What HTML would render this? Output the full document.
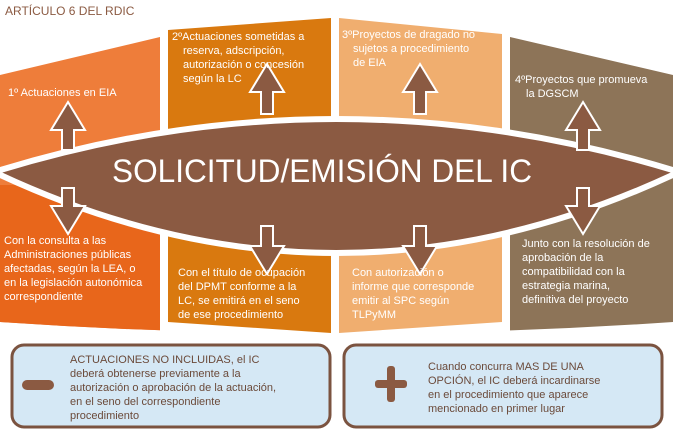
<!DOCTYPE html>
<html><head><meta charset="utf-8"><style>
html,body{margin:0;padding:0;background:#fff;}
svg{display:block;font-family:"Liberation Sans",sans-serif;}
</style></head><body>
<svg width="673" height="432" viewBox="0 0 673 432" xmlns="http://www.w3.org/2000/svg">
<defs>
<clipPath id="outer"><path d="M0,75 L160,37 L168,30 L331,18 L339,18 L502,34 L510,37 L673,75 L673,322 Q336,345 0,322 Z"/></clipPath>
</defs>
<g clip-path="url(#outer)">
<rect x="0" y="0" width="160" height="432" fill="#EE7D3A"/>
<rect x="0" y="185" width="160" height="250" fill="#E8661B"/>
<rect x="168" y="0" width="163" height="432" fill="#D9790F"/>
<rect x="339" y="0" width="163" height="432" fill="#F0AE6F"/>
<rect x="510" y="0" width="163" height="432" fill="#8D7458"/>
</g>
<path d="M168,322 L331,333 L331,345 L168,345 Z" fill="#fff"/>
<path d="M339,333 L502,322 L502,345 L339,345 Z" fill="#fff"/>
<path d="M-6,172 Q336,66 679,172 Q336,334 -6,172 Z" fill="#8B5A42" stroke="#fff" stroke-width="6"/>
<g fill="#8B5A42" stroke="#fff" stroke-width="2">
<path d="M68,102 L85,130 L74,130 L74,150 L62,150 L62,130 L51,130 Z"/>
<path d="M68,234 L85,206 L74,206 L74,188 L62,188 L62,206 L51,206 Z"/>
<path d="M267,64 L284,92 L273,92 L273,114 L261,114 L261,92 L250,92 Z"/>
<path d="M267,274 L284,246 L273,246 L273,226 L261,226 L261,246 L250,246 Z"/>
<path d="M420,64 L437,92 L426,92 L426,114 L414,114 L414,92 L403,92 Z"/>
<path d="M420,274 L437,246 L426,246 L426,226 L414,226 L414,246 L403,246 Z"/>
<path d="M583,102 L600,130 L589,130 L589,150 L577,150 L577,130 L566,130 Z"/>
<path d="M583,234 L600,206 L589,206 L589,188 L577,188 L577,206 L566,206 Z"/>
</g>
<text x="5" y="15" font-size="12" fill="#8B5A42">ARTÍCULO 6 DEL RDIC</text>
<text x="112" y="182" font-size="32" fill="#fff" textLength="420" lengthAdjust="spacingAndGlyphs">SOLICITUD/EMISIÓN  DEL IC</text>
<g font-size="11" fill="#fff">
<text x="8" y="96">1º Actuaciones en EIA</text>
<text x="172" y="40">2ºActuaciones sometidas a</text>
<text x="183" y="54">reserva, adscripción,</text>
<text x="183" y="68">autorización o concesión</text>
<text x="183" y="82">según la LC</text>
<text x="342" y="38">3ºProyectos de dragado no</text>
<text x="353" y="52">sujetos a procedimiento</text>
<text x="353" y="66">de EIA</text>
<text x="515" y="83">4ºProyectos que promueva</text>
<text x="526" y="97">la DGSCM</text>
<text x="4" y="244">Con la consulta a las</text>
<text x="4" y="258">Administraciones públicas</text>
<text x="4" y="272">afectadas, según la LEA, o</text>
<text x="4" y="286">en la legislación autonómica</text>
<text x="4" y="300">correspondiente</text>
<text x="178" y="276">Con el título de ocupación</text>
<text x="178" y="290">del DPMT conforme a la</text>
<text x="178" y="304">LC, se emitirá en el seno</text>
<text x="178" y="318">de ese procedimiento</text>
<text x="352" y="276">Con autorización o</text>
<text x="352" y="290">informe que corresponde</text>
<text x="352" y="304">emitir al SPC según</text>
<text x="352" y="318">TLPyMM</text>
<text x="522" y="247">Junto con la resolución de</text>
<text x="522" y="261">aprobación  de la</text>
<text x="522" y="275">compatibilidad con la</text>
<text x="522" y="289">estrategia marina,</text>
<text x="522" y="303">definitiva del proyecto</text>
</g>
<rect x="12" y="345" width="318" height="82" rx="12" fill="#D5E8F5" stroke="#7B5340" stroke-width="3"/>
<rect x="344" y="345" width="318" height="82" rx="12" fill="#D5E8F5" stroke="#7B5340" stroke-width="3"/>
<rect x="22" y="380" width="32" height="10" rx="5" fill="#8B5A42"/>
<rect x="375" y="380" width="32" height="8" rx="3" fill="#8B5A42"/>
<rect x="387" y="366" width="8" height="36" rx="3" fill="#8B5A42"/>
<g font-size="11" fill="#6B4A3A">
<text x="70" y="363">ACTUACIONES NO INCLUIDAS, el IC</text>
<text x="70" y="377">deberá obtenerse previamente a la</text>
<text x="70" y="391">autorización o aprobación de la actuación,</text>
<text x="70" y="405">en el seno del correspondiente</text>
<text x="70" y="419">procedimiento</text>
<text x="428" y="370">Cuando concurra MAS DE UNA</text>
<text x="428" y="384">OPCIÓN, el IC deberá incardinarse</text>
<text x="428" y="398">en el procedimiento que aparece</text>
<text x="428" y="412">mencionado en primer lugar</text>
</g>
</svg>
</body></html>
